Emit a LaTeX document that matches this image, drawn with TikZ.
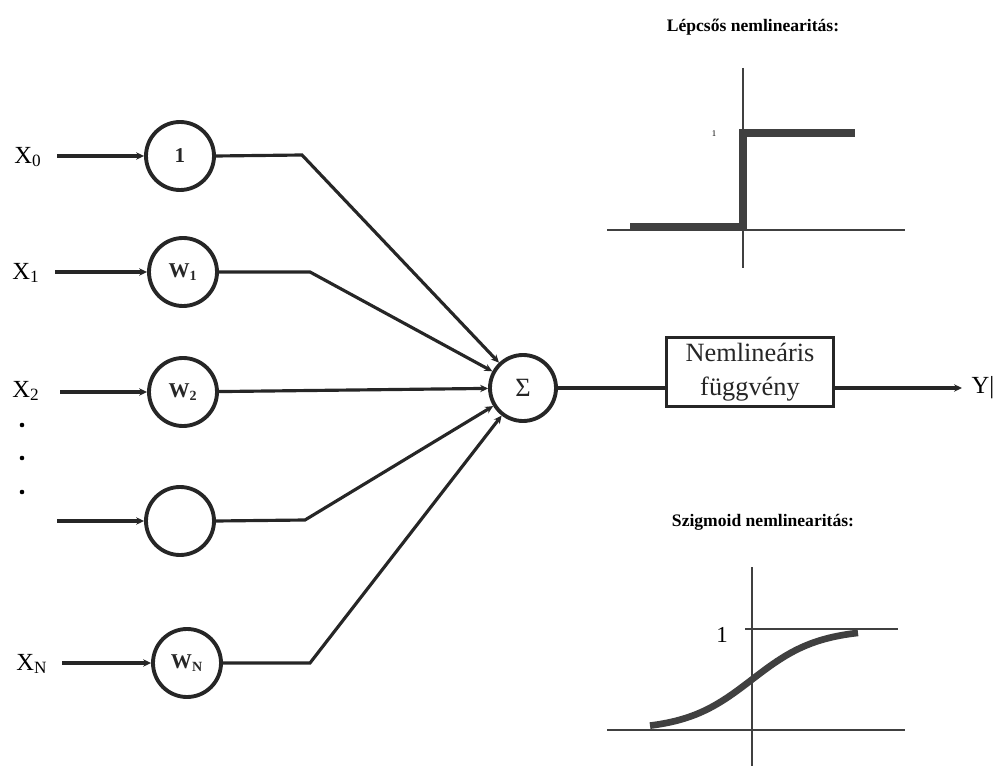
\documentclass[tikz,border=0pt]{standalone}
\usepackage{fontspec}
\setmainfont{Liberation Serif}
\usetikzlibrary{arrows.meta}

\begin{document}
\begin{tikzpicture}[x=0.02cm,y=-0.02cm,
    wire/.style={line width=1.8pt,black!85},
    feed/.style={wire,-{Stealth[length=4.5pt,width=4.2pt]}},
    weight/.style={circle,draw,line width=2.2pt,black!85,minimum size=68*0.02cm,inner sep=0pt,font=\fontsize{12}{14}\selectfont\bfseries},
    inlabel/.style={font=\fontsize{14}{16}\selectfont},
    title/.style={font=\fontsize{10}{12}\selectfont\bfseries},
    axis/.style={line width=0.9pt,black!75},
    curve/.style={line width=3.8pt,black!75}]
  \useasboundingbox (0,0) rectangle (1000,766);

  % weighting circles
  \node[weight] (c0) at (180,156) {1};
  \node[weight] (c1) at (183,272) {W\textsubscript{1}};
  \node[weight] (c2) at (183,392) {W\textsubscript{2}};
  \node[weight] (c3) at (180,521) {};
  \node[weight] (cN) at (187,663) {W\textsubscript{N}};

  % summing node
  \node[weight,minimum size=66*0.02cm,font=\fontsize{15}{17}\selectfont] (sig) at (523,388) {Σ};

  % nonlinear block
  \node[draw,line width=1.8pt,black!85,minimum width=167*0.02cm,minimum height=68*0.02cm,
        align=center,font=\fontsize{15}{19}\selectfont] (box) at (750,372) {Nemlineáris\\függvény};

  % input labels
  \node[inlabel] (x0) at (28,157) {X\textsubscript{0}};
  \node[inlabel] (x1) at (26,273) {X\textsubscript{1}};
  \node[inlabel] (x2) at (26,391) {X\textsubscript{2}};
  \node[inlabel] (xN) at (32,664) {X\textsubscript{N}};
  \node[inlabel] (y) at (983,388) {Y|};

  % ellipsis dots
  \foreach \yy/\nm in {425/d1,458/d2,492/d3}
    \fill (22,\yy) circle (1.3pt) coordinate (\nm);

  % input wire starts
  \coordinate (i0) at (57,156);
  \coordinate (i1) at (55,272);
  \coordinate (i2) at (60,392);
  \coordinate (i3) at (57,521);
  \coordinate (iN) at (62,663);

  % bends of the wires going to the summing node
  \coordinate (k0) at (302,155);
  \coordinate (k1) at (310,272);
  \coordinate (k3) at (305,520);
  \coordinate (kN) at (310,663);

  \draw[feed] (i0) -- (c0);
  \draw[feed] (i1) -- (c1);
  \draw[feed] (i2) -- (c2);
  \draw[feed] (i3) -- (c3);
  \draw[feed] (iN) -- (cN);

  \draw[feed] (c0.east) -- (k0) -- (sig);
  \draw[feed] (c1.east) -- (k1) -- (sig);
  \draw[feed] (c2) -- (sig);
  \draw[feed] (c3.east) -- (k3) -- (sig);
  \draw[feed] (cN.east) -- (kN) -- (sig);

  % summing node to block to output
  \coordinate (bin) at (box.west |- sig);
  \draw[wire] (sig) -- (bin);
  \coordinate (bout) at (box.east |- sig);
  \coordinate (yend) at (962,388);
  \draw[feed] (bout) -- (yend);

  % step nonlinearity
  \node[title] (t1) at (753,27) {Lépcsős nemlinearitás:};
  \draw[axis] (743,68) -- (743,268);
  \draw[axis] (607,230) -- (905,230);
  \draw[curve,line width=4.2pt] (630,227) -- (743,227) -- (743,133) -- (855,133);
  \node[font=\fontsize{5}{6}\selectfont] (s1) at (714,134) {1};

  % sigmoid nonlinearity
  \node[title] (t2) at (763,522) {Szigmoid nemlinearitás:};
  \draw[axis] (752,567) -- (752,766);
  \draw[axis] (607,730) -- (905,730);
  \draw[axis] (745,629) -- (898,629);
  \node[font=\fontsize{13}{15}\selectfont] (o1) at (722,635) {1};
  \draw[curve] plot[domain=650:858,samples=60,smooth] (\x,{730-101/(1+exp(-(\x-752)/33))});
\end{tikzpicture}
\end{document}
